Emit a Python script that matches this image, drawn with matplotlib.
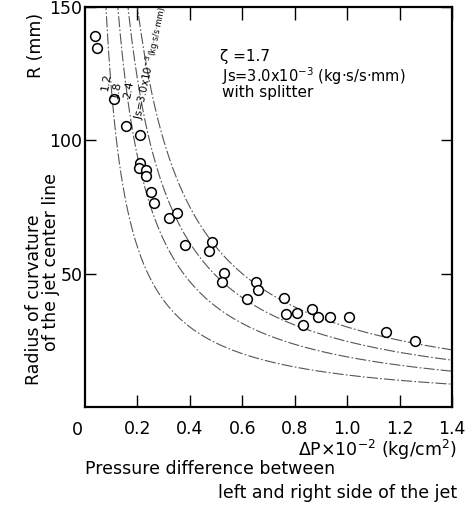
import numpy as np
import matplotlib
matplotlib.use('Agg')
import matplotlib.pyplot as plt

plt.rcParams['font.family'] = ['DejaVu Sans']
plt.rcParams['mathtext.fontset'] = 'dejavusans'

# Measured points: pressure difference (x10^-2 kg/cm^2) and radius R (mm)
dp_data = [0.040, 0.046, 0.109, 0.155, 0.210, 0.210, 0.206, 0.232, 0.234, 0.253,
           0.263, 0.322, 0.350, 0.383, 0.473, 0.485, 0.531, 0.523, 0.618, 0.652,
           0.661, 0.759, 0.768, 0.810, 0.866, 0.888, 0.832, 0.936, 1.006, 1.148,
           1.259]
r_data = [139.1, 134.6, 115.4, 105.3, 102.1, 91.6, 89.5, 88.8, 86.6, 80.8,
          76.6, 70.8, 72.8, 60.6, 58.5, 61.9, 50.3, 46.7, 40.6, 46.9,
          43.7, 40.7, 34.7, 35.3, 36.8, 33.6, 30.7, 33.6, 33.7, 28.2,
          24.7]

# Theoretical curves R = k / dP, one per Js (x10^-3 kg s/s mm)
js_values = [1.2, 1.8, 2.4, 3.0]
k_values = [12.0, 18.8, 24.6, 30.0]

W, H = 473, 518
fig = plt.figure(figsize=(W / 100, H / 100), dpi=100)
ax = fig.add_axes([85 / W, 1 - 407 / H, (452 - 85) / W, (407 - 7) / H])

dp = np.linspace(0.05, 1.4, 400)
for k in k_values:
    ax.plot(dp, k / dp, color='#555555', lw=0.8, ls=(0, (10, 2, 1.5, 2)))

ax.plot(dp_data, r_data, 'o', ms=7, mfc='white', mec='black', mew=1.1)

ax.set_xlim(0, 1.4)
ax.set_ylim(0, 150)
ax.set_xticks([0.2, 0.4, 0.6, 0.8, 1.0, 1.2, 1.4])
ax.set_xticklabels(['0.2', '0.4', '0.6', '0.8', '1.0', '1.2', '1.4'])
ax.set_yticks([50, 100, 150])
ax.set_yticklabels(['50', '100', '150'])
ax.tick_params(axis='x', direction='in', length=9, width=1, pad=9, labelsize=12.5,
               top=True)
ax.tick_params(axis='y', direction='in', length=8, width=1, pad=2, labelsize=12.5,
               right=True)
for s in ax.spines.values():
    s.set_linewidth(1.6)

# curve labels
ax.text(0.080, 122, '1.2', rotation=80, fontsize=8, ha='center', va='center')
ax.text(0.121, 119, '1.8', rotation=80, fontsize=8, ha='center', va='center')
ax.text(0.165, 119, '2.4', rotation=80, fontsize=8, ha='center', va='center')
ax.text(0.230, 120, 'Js=3.0x10$^{-3}$', rotation=78, fontsize=7.5,
        ha='center', va='center')
ax.text(0.275, 141, '(kg·s/s·mm)', rotation=78, fontsize=6,
        ha='center', va='center')

def px(x, y):
    return x / W, 1 - y / H

fig.text(*px(220, 57), 'ζ =1.7', fontsize=11, va='center')
fig.text(*px(222, 76), 'Js=3.0x10$^{-3}$ (kg·s/s·mm)', fontsize=10.5, va='center')
fig.text(*px(222, 93), 'with splitter', fontsize=11, va='center')

fig.text(*px(77, 430), '0', fontsize=12.5, ha='center', va='center')
fig.text(*px(457, 450), 'ΔP×10$^{-2}$ (kg/cm$^{2}$)', fontsize=12.5, ha='right', va='center')
fig.text(*px(85, 469), 'Pressure difference between', fontsize=12.5, va='center')
fig.text(*px(457, 493), 'left and right side of the jet', fontsize=12.5, ha='right', va='center')

fig.text(*px(36, 45), 'R (mm)', fontsize=12.5, rotation=90, ha='center', va='center')
fig.text(*px(34, 300), 'Radius of curvature', fontsize=12.5, rotation=90,
         ha='center', va='center')
fig.text(*px(51, 262), 'of the jet center line', fontsize=12.5, rotation=90,
         ha='center', va='center')

fig.savefig('out.png', dpi=100)
